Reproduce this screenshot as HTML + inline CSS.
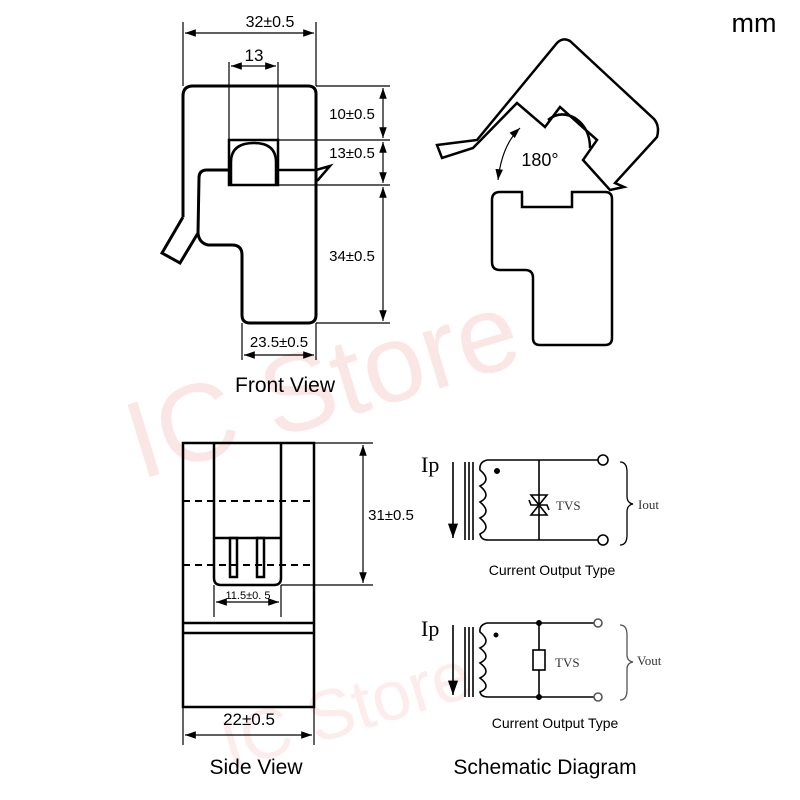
<!DOCTYPE html>
<html><head><meta charset="utf-8"><style>html,body{margin:0;padding:0;background:#fff}svg{display:block}</style></head>
<body>
<svg width="800" height="800" viewBox="0 0 800 800" xmlns="http://www.w3.org/2000/svg" font-family="Liberation Sans, sans-serif">
<defs>
<marker id="a" viewBox="0 0 10 10" refX="10" refY="5" markerWidth="9" markerHeight="9" orient="auto-start-reverse"><path d="M0,1.5 L10,5 L0,8.5 z" fill="#000"/></marker>
</defs>
<rect width="800" height="800" fill="#fff"/>
<!-- watermark -->
<text x="140" y="480" font-size="110" fill="#fbe6e6" transform="rotate(-17 140 480)">IC Store</text>
<text x="230" y="770" font-size="70" fill="#fcecec" transform="rotate(-17 230 770)">IC Store</text>

<text x="754" y="32" font-size="27" text-anchor="middle">mm</text>

<g fill="none" stroke="#000">
<!-- front view -->
<path d="M183,217 L183,96 Q183,86 193,86 L308,86 Q316,86 316,94 L316,315 Q316,323 308,323 L250,323 Q242,323 242,315 L242,255 Q242,245 232,245 L208,245 Q199,243 198,233 L180,263 L162,253 L183,217" stroke-width="3"/>
<path d="M198,233 L199,178 Q199,170 207,170 L229,170" stroke-width="3"/>
<path d="M278,170 L316,170 L330,166 L318,180 L316,181" stroke-width="2.5"/>
<rect x="229" y="140" width="49" height="45" stroke-width="2.5"/>
<path d="M231,184 L231,162 Q231,143 254,143 Q276,143 276,162 L276,184" stroke-width="2.5"/>
<g stroke-width="1.2">
<line x1="183" y1="22" x2="183" y2="86"/><line x1="316" y1="22" x2="316" y2="86"/>
<line x1="185" y1="33" x2="314" y2="33" marker-start="url(#a)" marker-end="url(#a)"/>
<line x1="229" y1="62" x2="229" y2="140"/><line x1="278" y1="62" x2="278" y2="140"/>
<line x1="231" y1="66" x2="276" y2="66" marker-start="url(#a)" marker-end="url(#a)"/>
<line x1="316" y1="86" x2="390" y2="86"/><line x1="278" y1="140" x2="390" y2="140"/>
<line x1="278" y1="185" x2="390" y2="185"/><line x1="316" y1="323" x2="390" y2="323"/>
<line x1="383" y1="88" x2="383" y2="138" marker-start="url(#a)" marker-end="url(#a)"/>
<line x1="383" y1="142" x2="383" y2="183" marker-start="url(#a)" marker-end="url(#a)"/>
<line x1="383" y1="187" x2="383" y2="321" marker-start="url(#a)" marker-end="url(#a)"/>
<line x1="242" y1="323" x2="242" y2="360"/><line x1="316" y1="323" x2="316" y2="360"/>
<line x1="244" y1="355" x2="314" y2="355" marker-start="url(#a)" marker-end="url(#a)"/>
</g>
<!-- open view -->
<path d="M492,200 Q492,192 500,192 L522,192 L522,207 L572,207 L572,192 L605,192 Q612,192 612,199 L612,338 Q612,345 605,345 L540,345 Q533,345 533,338 L533,278 Q533,270 525,270 L500,270 Q492,270 492,262 Z" stroke-width="2.5"/>
<path d="M437,145 L477,140 L557,43 Q563,37 570,41 L654,119 Q660,126 657,137 L615,183 L624,187 L610,190 L583,160 L597,140 L560,107 L545,127 L517,103 L473,148 L442,158 Z" stroke-width="2.5"/>
<path d="M548,120 Q560,110 575,118 Q590,128 590,148" stroke-width="2.5"/>
<path d="M498,180 Q502,145 520,128" stroke-width="1.2" marker-start="url(#a)" marker-end="url(#a)"/>
<!-- side view -->
<rect x="183" y="443" width="131" height="264" stroke-width="2.5"/>
<line x1="183" y1="623" x2="314" y2="623" stroke-width="2.5"/>
<line x1="183" y1="633" x2="314" y2="633" stroke-width="2.5"/>
<path d="M214,443 L214,578 Q214,585 221,585 L274,585 Q281,585 281,578 L281,443" stroke-width="2.5"/>
<line x1="214" y1="538" x2="281" y2="538" stroke-width="2.5"/>
<rect x="230" y="538" width="7" height="39" stroke-width="2.5"/>
<rect x="257" y="538" width="7" height="39" stroke-width="2.5"/>
<line x1="183" y1="501" x2="314" y2="501" stroke-width="2" stroke-dasharray="7,5"/>
<line x1="183" y1="565" x2="314" y2="565" stroke-width="2" stroke-dasharray="7,5"/>
<g stroke-width="1.2">
<line x1="314" y1="443" x2="373" y2="443"/><line x1="281" y1="585" x2="373" y2="585"/>
<line x1="363" y1="445" x2="363" y2="583" marker-start="url(#a)" marker-end="url(#a)"/>
<line x1="214" y1="585" x2="214" y2="617"/><line x1="281" y1="585" x2="281" y2="617"/>
<line x1="216" y1="602" x2="279" y2="602" marker-start="url(#a)" marker-end="url(#a)"/>
<line x1="183" y1="707" x2="183" y2="745"/><line x1="314" y1="707" x2="314" y2="745"/>
<line x1="185" y1="735" x2="312" y2="735" marker-start="url(#a)" marker-end="url(#a)"/>
</g>
<!-- schematic 1 -->
<g stroke-width="1.6">
<line x1="453" y1="462" x2="453" y2="538" marker-end="url(#a)"/>
<line x1="465" y1="462" x2="465" y2="540"/><line x1="469" y1="462" x2="469" y2="540"/><line x1="473" y1="462" x2="473" y2="540"/>
<path d="M487,460 Q479,462 480,470 Q492,480 480,486 Q492,496 480,502 Q492,512 480,518 Q492,528 480,534 Q481,540 488,540"/>
<line x1="487" y1="460" x2="598" y2="460"/><line x1="488" y1="540" x2="598" y2="540"/>
<circle cx="603" cy="460" r="5"/><circle cx="603" cy="540" r="5"/>
<line x1="539" y1="460" x2="539" y2="540"/>
<path d="M531,495 L547,495 L539,505 Z M531,515 L547,515 L539,505 Z"/>
<path d="M529,500 L531,505 L547,505 L549,510"/>
<path d="M620,462 Q627,462 627,472 L627,496 Q627,503 633,504 Q627,505 627,512 L627,535 Q627,545 620,545" stroke-width="1.3"/>
</g>
<circle cx="497" cy="471" r="2.5" fill="#000"/>
<!-- schematic 2 -->
<g stroke-width="1.6">
<line x1="453" y1="625" x2="453" y2="695" marker-end="url(#a)"/>
<line x1="465" y1="627" x2="465" y2="697"/><line x1="469" y1="627" x2="469" y2="697"/><line x1="473" y1="627" x2="473" y2="697"/>
<path d="M487,623 Q479,625 480,632 Q492,642 480,648 Q492,657 480,663 Q492,672 480,678 Q492,687 480,692 Q481,697 488,697"/>
<line x1="487" y1="623" x2="594" y2="623"/><line x1="488" y1="697" x2="594" y2="697"/>
<circle cx="598" cy="623" r="4" stroke="#555"/><circle cx="598" cy="697" r="4" stroke="#555"/>
<line x1="539" y1="623" x2="539" y2="650"/><line x1="539" y1="670" x2="539" y2="697"/>
<rect x="533" y="650" width="12" height="20"/>
<path d="M620,625 Q627,625 627,635 L627,655 Q627,661 633,662 Q627,663 627,669 L627,690 Q627,700 620,700" stroke-width="1.3" stroke="#555"/>
</g>
<circle cx="539" cy="623" r="2.5" fill="#000"/><circle cx="539" cy="697" r="2.5" fill="#000"/>
<circle cx="496" cy="635" r="2" fill="#000"/>
</g>

<g font-size="15" text-anchor="middle">
<text x="270" y="27" font-size="16">32±0.5</text>
<text x="254" y="61" font-size="17">13</text>
<text x="352" y="119">10±0.5</text>
<text x="352" y="158">13±0.5</text>
<text x="352" y="261">34±0.5</text>
<text x="279" y="347">23.5±0.5</text>
<text x="540" y="166" font-size="18">180°</text>
<text x="391" y="520">31±0.5</text>
<text x="248" y="599" font-size="11">11.5±0. 5</text>
<text x="249" y="725" font-size="17">22±0.5</text>
<text x="552" y="575" font-size="14">Current Output Type</text>
<text x="555" y="728" font-size="14">Current Output Type</text>
</g>
<g font-size="21" text-anchor="middle">
<text x="285" y="392">Front View</text>
<text x="256" y="774">Side View</text>
<text x="545" y="774">Schematic Diagram</text>
</g>
<g font-family="Liberation Serif, serif">
<text x="421" y="472" font-size="22">Ip</text>
<text x="421" y="636" font-size="22">Ip</text>
<text x="556" y="510" font-size="13" fill="#333">TVS</text>
<text x="555" y="667" font-size="13" fill="#333">TVS</text>
<text x="638" y="509" font-size="13" fill="#333">Iout</text>
<text x="637" y="665" font-size="13" fill="#333">Vout</text>
</g>
</svg>
</body></html>
